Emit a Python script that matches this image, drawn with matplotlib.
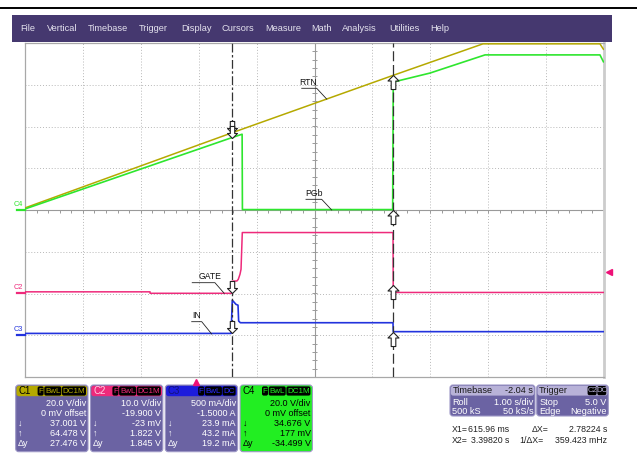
import matplotlib
matplotlib.use("Agg")
import matplotlib.pyplot as plt
import numpy as np
from matplotlib.patches import FancyBboxPatch, Rectangle
from matplotlib.path import Path

plt.rcParams['font.family'] = ['Liberation Sans', 'DejaVu Sans']

# --- data -----------------------------------------------------------------
# time base: 1 s/div, 10 div, left edge at -2.96 s (delay -2.04 s)
t_left, t_right = -2.96, 7.04
x1_cursor, x2_cursor = 0.61596, 3.39820

# C1 RTN (V)
rtn_t = [-2.96, 0.616, 3.398, 4.95, 6.97, 7.03]
rtn_v = [1.0, 37.0, 64.5, 79.6, 79.6, 77.0]

# C4 PGb (V)
pgb_t = [-2.96, 0.616, 0.79, 0.795, 3.39, 3.40, 4.035, 4.985, 6.97, 7.03]
pgb_v = [0.5, 34.7, 36.3, 0.2, 0.2, 61.3, 65.6, 74.3, 74.3, 71.0]

# C2 GATE (V)
gate_t = [-2.96, -0.80, -0.80, 0.61, 0.616, 0.70, 0.724, 0.753, 0.771, 0.793, 3.396, 3.40, 7.04]
gate_v = [0.3, 0.3, -0.05, -0.05, 2.85, 2.9, 3.3, 4.5, 5.7, 14.5, 14.5, 0.15, 0.15]

# C3 IN (A)
in_t = [-2.96, 0.60, 0.62, 0.684, 0.719, 0.73, 0.76, 3.396, 3.40, 7.04]
in_a = [0.022, 0.022, 0.42, 0.37, 0.36, 0.17, 0.15, 0.15, 0.043, 0.043]

# cursor readouts (x1, x2)
c1_read = [37.001, 64.478]
c2_read = [-0.023, 1.822]
c3_read = [0.0239, 0.0432]
c4_read = [34.676, 0.177]

# channel settings: (V/div, offset)
c1_set = (20.0, 0.0)
c2_set = (10.0, -19.9)
c3_set = (0.5, -1.5)
c4_set = (20.0, 0.0)
trig_level = 5.0

menu_items = ["File", "Vertical", "Timebase", "Trigger", "Display", "Cursors",
              "Measure", "Math", "Analysis", "Utilities", "Help"]
menu_x = [20, 47, 88, 139, 181, 222, 265, 311, 342, 389, 430]

col_c1 = "#b5a900"
col_c2 = "#ee2a7b"
col_c3 = "#2233dd"
col_c4 = "#2ee62e"


def to_div(vals, setting):
    scale, offset = setting
    return (np.asarray(vals) + offset) / scale


fig = plt.figure(figsize=(6.37, 4.54), dpi=100)

# pixel-space overlay for the chrome
ax0 = fig.add_axes([0, 0, 1, 1])
ax0.set_xlim(0, 637)
ax0.set_ylim(454, 0)
ax0.axis("off")

ax0.axhline(7.5, color="black", lw=1.4)
ax0.add_patch(Rectangle((11.7, 15), 600, 26.7, fc="#45386f", ec="none"))
for name, mx in zip(menu_items, menu_x):
    ax0.text(mx, 28.7, name, color="#e4e2ee", fontsize=6.7, va="center", ha="left")

# --- scope graticule -------------------------------------------------------
ax = fig.add_axes([25 / 637, 77 / 454, 579 / 637, 334 / 454], zorder=2)
ax.set_xlim(t_left, t_right)
ax.set_ylim(-4, 4)
ax.set_xticks([])
ax.set_yticks([])
for s in ["left", "top", "bottom"]:
    ax.spines[s].set_color("#a8a8a8")
    ax.spines[s].set_linewidth(0.9)
ax.spines["right"].set_color("#cccccc")
ax.spines["right"].set_linewidth(2)

for k in range(1, 10):
    if k == 5:
        ax.axvline(t_left + k, color="#9a9a9a", lw=0.8, zorder=1)
    else:
        ax.axvline(t_left + k, color="#b8b8b8", lw=0.7, ls=(0, (1, 2)), zorder=1)
for j in range(-3, 4):
    if j == 0:
        ax.axhline(0, color="#9a9a9a", lw=0.8, zorder=1)
    else:
        ax.axhline(j, color="#b8b8b8", lw=0.7, ls=(0, (1, 2)), zorder=1)

xt = t_left + np.arange(0, 10.01, 0.2)
ax.vlines(xt, -3 / 41.75, 0, color="#9a9a9a", lw=0.7, zorder=1)
yt = np.arange(-4, 4.01, 0.2)
ax.hlines(yt, t_left + 5 - 2.5 / 57.9, t_left + 5 + 2.5 / 57.9, color="#9a9a9a", lw=0.7, zorder=1)

# traces
ax.plot(rtn_t, to_div(rtn_v, c1_set), color=col_c1, lw=1.1, zorder=3)
ax.plot(pgb_t, to_div(pgb_v, c4_set), color=col_c4, lw=1.2, zorder=3)
ax.plot(gate_t, to_div(gate_v, c2_set), color=col_c2, lw=1.1, zorder=3)
ax.plot(in_t, to_div(in_a, c3_set), color=col_c3, lw=1.2, zorder=3)

# cursors
ax.axvline(x1_cursor, color="#333333", lw=0.9, ls=(0, (7, 2, 2, 2)), zorder=4)
ax.axvline(x2_cursor, color="#333333", lw=0.9, ls=(0, (8, 3)), zorder=4)

down_arrow = Path([(0, 0), (-5, 5), (-2.2, 5), (-2.2, 12), (2.2, 12), (2.2, 5), (5, 5), (0, 0)],
                  closed=True)
up_arrow = Path([(0, 0), (-5.5, -5.5), (-2.3, -5.5), (-2.3, -14), (2.3, -14), (2.3, -5.5), (5.5, -5.5), (0, 0)],
                closed=True)
for read, setting in [(c1_read, c1_set), (c4_read, c4_set), (c2_read, c2_set), (c3_read, c3_set)]:
    ax.plot([x1_cursor], [to_div(read[0], setting)], marker=down_arrow, ms=17.3,
            mfc="white", mec="#222222", mew=0.8, ls="none", zorder=6, clip_on=False)
    ax.plot([x2_cursor], [to_div(read[1], setting)], marker=up_arrow, ms=20.2,
            mfc="white", mec="#222222", mew=0.8, ls="none", zorder=6, clip_on=False)

# channel ground markers on the left
ytr = ax.get_yaxis_transform()
for name, setting, col in [("C4", c4_set, col_c4), ("C2", c2_set, col_c2), ("C3", c3_set, col_c3)]:
    y0 = to_div(0.0, setting)
    ax.plot([-0.014, 0], [y0, y0], color=col, lw=1.6, transform=ytr, clip_on=False, zorder=5)
    ax.text(-0.011, y0 + 0.05, name, color=col, fontsize=5.3, ha="center", va="bottom",
            transform=ytr, clip_on=False)

# trigger markers
ax.plot([0.0], [-0.016], marker="^", ms=5, color="#ee1177", transform=ax.get_xaxis_transform(),
        clip_on=False)
ax.plot([1.008], [to_div(trig_level, c2_set)], marker="<", ms=5, color="#ee1177",
        transform=ytr, clip_on=False)

# trace labels with leaders
labels = [
    ("RTN", 1.928, 2.915, 1.819, 2.078, 2.251, 2.656),
    ("PGb", 2.023, 0.256, 1.893, 2.164, 2.337, 0.0),
    ("GATE", 0.235, -1.741, -0.072, 0.320, 0.480, -1.995),
    ("IN", 0.005, -2.675, -0.081, 0.092, 0.264, -2.970),
]
for txt, tx, yu, xa, xb, xe, ye in labels:
    ax.plot([xa, xb, xe], [yu, yu, ye], color="#222222", lw=0.6, zorder=5)
    ax.text(tx, yu + 0.04, txt, fontsize=6.2, ha="center", va="bottom", color="#111111", zorder=5)


# --- bottom info boxes -----------------------------------------------------
def badge(x_right, y, texts, widths, txt_col, fs=5.8):
    xr = x_right
    for t, w in reversed(list(zip(texts, widths))):
        ax0.add_patch(FancyBboxPatch((xr - w, y - 4.6), w, 9.2,
                                     boxstyle="round,pad=0,rounding_size=1.8",
                                     fc="black", ec="none"))
        ax0.text(xr - w / 2, y + 0.2, t, color=txt_col, fontsize=fs, ha="center", va="center")
        xr -= w + 0.7


def chan_box(x0, name, head_col, body_col, name_col, badges, bw, badge_col, rows, text_col):
    w = 72.3
    ax0.add_patch(FancyBboxPatch((x0, 385), w, 66.7, boxstyle="round,pad=0,rounding_size=3",
                                 fc=body_col, ec="#9d97c6", lw=0.8))
    ax0.add_patch(FancyBboxPatch((x0 + 0.8, 385.8), w - 1.6, 10.4,
                                 boxstyle="round,pad=0,rounding_size=2.5",
                                 fc=head_col, ec="none"))
    ax0.text(x0 + 2.5, 391.2, name, color=name_col, fontsize=7, ha="left", va="center")
    badge(x0 + w - 2, 391, badges, bw, badge_col)
    for i, (lft, rgt) in enumerate(rows):
        y = 403.3 + 10 * i
        if lft:
            ax0.text(x0 + 2.5, y, lft, color=text_col, fontsize=6.5, ha="left", va="center")
        ax0.text(x0 + w - 1.8, y, rgt, color=text_col, fontsize=6.5, ha="right", va="center")


body = "#6b63a3"
chan_box(15.7, "C1", col_c1, body, "black", ["F", "BwL", "DC1M"], [6, 17, 24], col_c1,
         [("", "20.0 V/div"), ("", "0 mV offset"), ("\u2193", "37.001 V"),
          ("\u2191", "64.478 V"), ("\u0394y", "27.476 V")], "white")
chan_box(90.5, "C2", col_c2, body, "#ffd0e6", ["F", "BwL", "DC1M"], [6, 17, 24], col_c2,
         [("", "10.0 V/div"), ("", "-19.900 V"), ("\u2193", "-23 mV"),
          ("\u2191", "1.822 V"), ("\u0394y", "1.845 V")], "white")
chan_box(165.3, "C3", "#1c1cdc", body, "#12127a", ["F", "BwL", "DC"], [6, 17, 13], "#2a2aff",
         [("", "500 mA/div"), ("", "-1.5000 A"), ("\u2193", "23.9 mA"),
          ("\u2191", "43.2 mA"), ("\u0394y", "19.2 mA")], "white")
chan_box(240.1, "C4", "#22ee22", "#22ee22", "black", ["F", "BwL", "DC1M"], [6, 17, 24], "#22ee22",
         [("", "20.0 V/div"), ("", "0 mV offset"), ("\u2193", "34.676 V"),
          ("\u2191", "177 mV"), ("\u0394y", "-34.499 V")], "black")


def info_box(x0, w, title, right, rows, badges=None):
    ax0.add_patch(FancyBboxPatch((x0, 385), w, 31, boxstyle="round,pad=0,rounding_size=3",
                                 fc=body, ec="#9d97c6", lw=0.8))
    ax0.add_patch(FancyBboxPatch((x0 + 0.8, 385.8), w - 1.6, 9.8,
                                 boxstyle="round,pad=0,rounding_size=2.5",
                                 fc="#b8b2d8", ec="none"))
    ax0.text(x0 + 2.5, 390.8, title, color="#1a1a1a", fontsize=6.6, ha="left", va="center")
    if right:
        ax0.text(x0 + w - 1.8, 390.8, right, color="#1a1a1a", fontsize=6.6, ha="right", va="center")
    if badges:
        badge(x0 + w - 2, 390.6, badges, [9, 9], "#b8b2d8", fs=5.6)
    for i, (lft, rgt) in enumerate(rows):
        y = 402.3 + 9.7 * i
        ax0.text(x0 + 2.5, y, lft, color="white", fontsize=6.6, ha="left", va="center")
        ax0.text(x0 + w - 1.8, y, rgt, color="white", fontsize=6.6, ha="right", va="center")


info_box(450, 85, "Timebase", "-2.04 s", [("Roll", "1.00 s/div"), ("500 kS", "50 kS/s")])
info_box(536.7, 71.6, "Trigger", None, [("Stop", "5.0 V"), ("Edge", "Negative")], ["C2", "DC"])

rd = dict(fontsize=6.3, va="center", color="#222222")
ax0.text(452, 429.3, "X1=", ha="left", **rd)
ax0.text(509, 429.3, "615.96 ms", ha="right", **rd)
ax0.text(531.5, 429.3, "\u0394X=", ha="left", **rd)
ax0.text(607, 429.3, "2.78224 s", ha="right", **rd)
ax0.text(452, 440.5, "X2=", ha="left", **rd)
ax0.text(509, 440.5, "3.39820 s", ha="right", **rd)
ax0.text(519.5, 440.5, "1/\u0394X=", ha="left", **rd)
ax0.text(607, 440.5, "359.423 mHz", ha="right", **rd)

fig.savefig("out.png", dpi=100)
